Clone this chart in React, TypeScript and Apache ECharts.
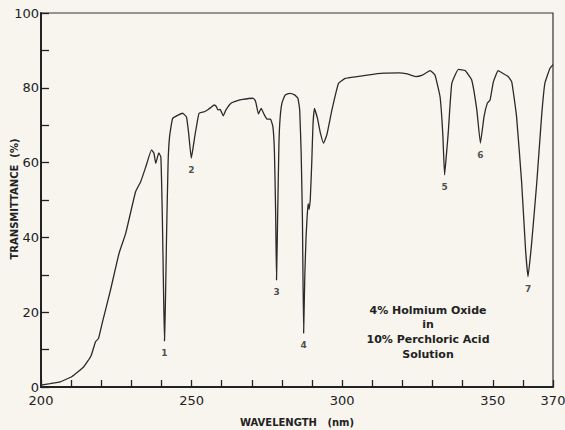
import React, { useEffect, useRef } from 'react';
import * as echarts from 'echarts';

// Wavelength (nm) and transmittance (%)
const wavelengths = [
  200, 203, 206.4, 210.3, 214.2, 216.6, 218.1, 219.1, 220.3, 223.1,
  225.9, 228.1, 231.4, 233.1, 234.8, 236.7, 237.5, 238.1, 239.1, 239.8,
  240.3, 240.7, 241.0, 241.3, 241.7, 242.2, 242.7, 243.7, 245.5, 247.0,
  248.3, 249.0, 249.9, 250.5, 251.1, 251.8, 252.5, 254.2, 255.5, 256.5,
  257.5, 258.2, 258.7, 259.5, 260.5, 261.4, 263.1, 265.0, 267.0, 270.3,
  271.0, 271.4, 272.2, 273.1, 274.2, 275.1, 276.2, 277.0, 277.5, 277.9,
  278.2, 278.6, 279.0, 279.4, 280.0, 281.0, 282.5, 284.2, 285.3, 285.9,
  286.4, 286.8, 287.2, 287.6, 288.0, 288.4, 288.7, 289.0, 289.4, 289.9,
  290.3, 290.8, 291.8, 292.8, 293.8, 294.9, 296.6, 298.8, 301.0, 305.0,
  308.3, 313.8, 318.8, 321.6, 324.4, 326.6, 329.2, 330.8, 332.5, 333.4,
  334.0, 334.6, 335.2, 336.4, 338.6, 340.8, 343.0, 344.7, 345.9, 347.1,
  348.2, 349.1, 350.2, 351.8, 353.7, 355.1, 356.3, 357.9, 359.6, 360.9,
  361.7, 362.9, 364.6, 366.2, 367.3, 369.0, 370,
];
const transmittance = [
  0.5, 0.9, 1.4, 2.8, 5.4, 8.3, 12.1, 13.0, 17.0, 26.0,
  35.7, 41.0, 52.2, 54.9, 58.9, 63.4, 62.5, 59.8, 62.6, 61.5,
  45, 25, 12.3, 22, 41, 60, 67, 71.8, 72.7, 73.2,
  72.2, 68.0, 61.2, 64.0, 67.2, 70.5, 73.2, 73.6, 74.2, 74.8,
  75.4, 75.0, 74.1, 74.2, 72.5, 74.1, 75.9, 76.5, 76.9, 77.2,
  76.8, 75.9, 73.0, 74.5, 72.7, 71.6, 71.6, 69.6, 63.0, 47.0,
  28.6, 47.0, 65.0, 72.0, 75.9, 78.0, 78.5, 78.1, 77.2, 74.0,
  62.0, 45.0, 14.4, 30.0, 40.0, 46.0, 49.0, 47.5, 50.0, 60.0,
  70.0, 74.5, 71.8, 67.8, 65.2, 67.4, 74.1, 81.2, 82.5, 83.0,
  83.4, 83.9, 84.0, 83.7, 83.0, 83.4, 84.6, 83.4, 77.6, 67.8,
  56.7, 62.0, 67.8, 81.2, 84.9, 84.6, 82.1, 74.1, 65.2, 72.3,
  75.9, 76.7, 81.6, 84.6, 83.7, 83.0, 81.6, 72.3, 54.5, 36.6,
  29.5, 38.4, 54.5, 72.3, 81.2, 85.2, 86.2,
];

// Numbered absorption peaks
const peakLabels = ['1', '2', '3', '4', '5', '6', '7'];
const peakWavelengths = [241.0, 249.9, 278.2, 287.2, 334.0, 345.9, 361.7];
const peakValues = [12.3, 61.2, 28.6, 14.4, 56.7, 65.2, 29.5];

const xLabeled = [200, 250, 300, 350, 370];
const yLabeled = [0, 20, 40, 60, 80, 100];

const annotationLines = ['4% Holmium Oxide', 'in', '10% Perchloric Acid', 'Solution'];

export default function App() {
  const ref = useRef<HTMLDivElement>(null);
  useEffect(() => {
    document.body.style.margin = '0';
    const chart = echarts.init(ref.current!, null, { renderer: 'svg' });
    const ink = '#222';
    const font = 'DejaVu Sans';
    const n = Math.min(wavelengths.length, transmittance.length);
    const curve = [];
    for (let i = 0; i < n; i++) curve.push([wavelengths[i], transmittance[i]]);
    chart.setOption({
      animation: false,
      backgroundColor: '#f7f5ee',
      grid: {
        left: 41, right: 12, top: 13, bottom: 43,
        containLabel: false,
        outerBoundsMode: 'none',
        show: true, borderColor: '#333', borderWidth: 1.2,
      },
      xAxis: {
        type: 'value', min: 200, max: 370, interval: 10,
        axisLine: { lineStyle: { color: ink, width: 2 } },
        axisTick: { inside: true, length: 7, lineStyle: { color: ink, width: 1.3 } },
        axisLabel: {
          formatter: (v: number) => (xLabeled.includes(v) ? String(v) : ''),
          color: ink, fontSize: 13, fontFamily: font, margin: 7,
          showMinLabel: true, showMaxLabel: true,
        },
        splitLine: { show: false },
        name: 'WAVELENGTH   (nm)',
        nameLocation: 'middle', nameGap: 30,
        nameTextStyle: { color: ink, fontSize: 10, fontWeight: 'bold', fontFamily: font },
      },
      yAxis: {
        type: 'value', min: 0, max: 100, interval: 10,
        axisLine: { lineStyle: { color: ink, width: 2 } },
        axisTick: { inside: true, length: 8, lineStyle: { color: ink, width: 1.3 } },
        axisLabel: {
          formatter: (v: number) => (yLabeled.includes(v) ? String(v) : ''),
          color: ink, fontSize: 13, fontFamily: font, margin: 2,
        },
        splitLine: { show: false },
      },
      series: [
        {
          type: 'line',
          data: curve,
          showSymbol: false,
          smooth: 0.12,
          lineStyle: { color: '#2a2a2a', width: 1.3 },
        },
        {
          type: 'scatter',
          data: peakWavelengths.map((w, i) => ({ name: peakLabels[i], value: [w, peakValues[i]] })),
          symbolSize: 1,
          itemStyle: { color: 'rgba(0,0,0,0)' },
          label: {
            show: true, position: 'bottom', distance: 7,
            formatter: (p: any) => p.name,
            color: ink, fontSize: 9, fontFamily: font, fontWeight: 'bold',
          },
        },
      ],
      graphic: [
        {
          type: 'text',
          x: 14,
          y: 199,
          rotation: Math.PI / 2,
          style: {
            text: 'TRANSMITTANCE  (%)', fill: ink,
            font: `bold 10px "${font}"`,
            textAlign: 'center', textVerticalAlign: 'middle',
          },
        },
        ...annotationLines.map((t, i) => ({
          type: 'text',
          x: 428,
          y: 310 + i * 14.7,
          style: {
            text: t, fill: ink,
            font: `bold 11px "${font}"`,
            textAlign: 'center', textVerticalAlign: 'middle',
          },
        })),
      ],
    });
    return () => chart.dispose();
  }, []);
  return (
    <div
      ref={ref}
      style={{ position: 'absolute', left: 0, top: 0, width: 565, height: 430 }}
    />
  );
}
